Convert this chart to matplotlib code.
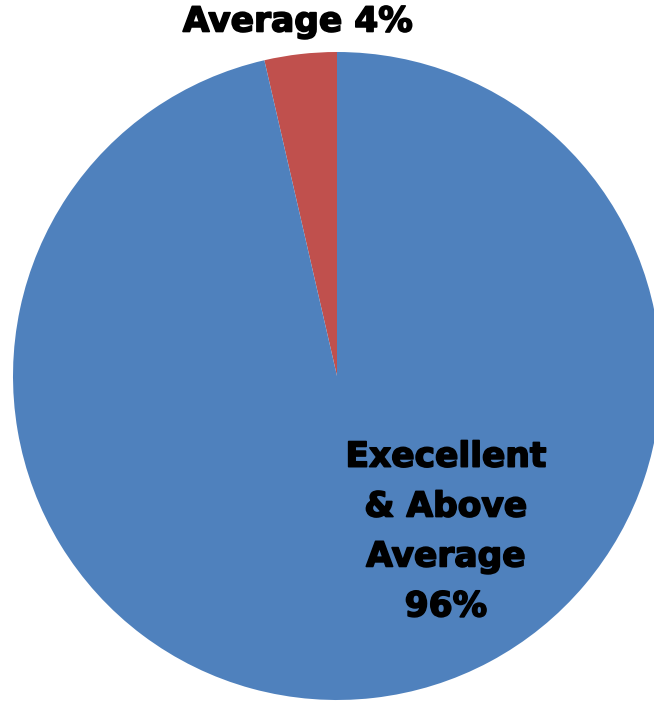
import matplotlib
matplotlib.use("Agg")
import matplotlib.pyplot as plt
import matplotlib.patheffects as pe

categories = ["Average", "Execellent\n& Above\nAverage"]
values = [3.6, 96.4]
colors = ["#C0504D", "#4F81BD"]

W, H = 654, 701
fig = plt.figure(figsize=(W / 100, H / 100), dpi=100)
ax = fig.add_axes([0, 0, 1, 1])

cx, cy, r = 337, H - 376, 324
ax.pie(values, colors=colors, startangle=90, counterclock=True,
       center=(cx, cy), radius=r, frame=True,
       wedgeprops=dict(linewidth=0))
ax.set_xlim(0, W)
ax.set_ylim(0, H)
ax.set_aspect("equal")
ax.axis("off")

font = dict(family="DejaVu Sans", fontweight="bold", fontsize=24.8, color="black",
            path_effects=[pe.withStroke(linewidth=1.2, foreground="black")])
ax.text(298, H - 22, f"{categories[0]} {round(values[0])}%", ha="center", va="center", **font)
ax.text(446, H - 532, f"{categories[1]}\n{round(values[1])}%", ha="center", va="center",
        linespacing=1.65, **font)

fig.savefig("out.png", dpi=100)
